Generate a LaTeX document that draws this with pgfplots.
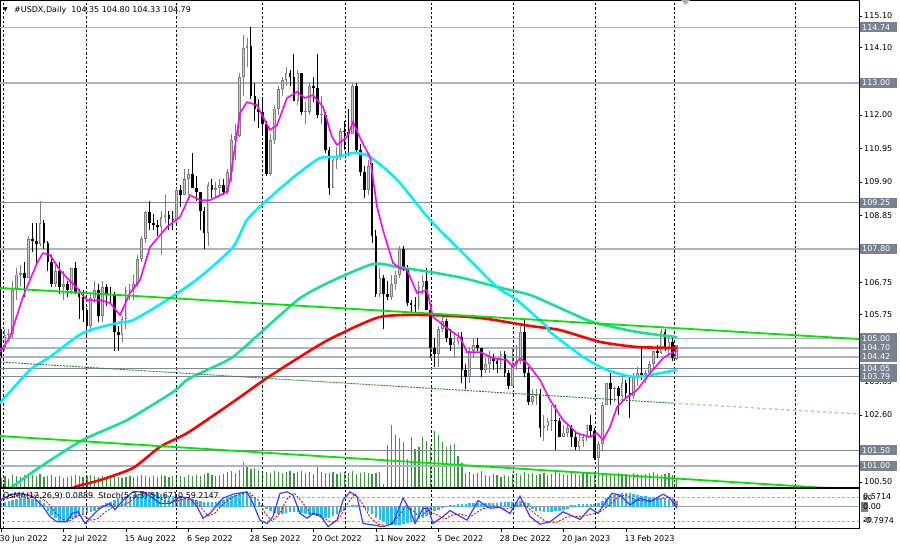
\documentclass[border=0pt]{standalone}
\usepackage{fontspec}
\setmainfont{DejaVu Sans}
\usepackage{pgfplots}
\usepackage{pgfplotstable}
\pgfplotsset{compat=1.18}
\definecolor{lvlA}{RGB}{172,180,190}
\definecolor{lvlB}{RGB}{125,135,150}
\definecolor{boxc}{RGB}{120,130,144}
\definecolor{magc}{RGB}{255,0,255}
\definecolor{cyanc}{RGB}{0,240,255}
\definecolor{sgreen}{RGB}{20,225,150}
\definecolor{limec}{RGB}{0,230,0}
\definecolor{volc}{RGB}{60,150,60}
\definecolor{osmac}{RGB}{40,190,240}
\definecolor{stochb}{RGB}{60,60,255}
\definecolor{bullc}{RGB}{125,125,125}
\definecolor{bullf}{RGB}{205,205,205}
\definecolor{dotg}{RGB}{40,130,40}
\definecolor{extg}{RGB}{120,240,120}

\pgfplotstableread{
i O H L C V M
0 105.10 105.30 104.40 104.70 9 0.25
1 104.70 105.30 104.60 105.10 11 0.30
2 105.10 105.30 104.90 105.15 8 0.35
3 105.15 106.80 105.00 106.50 12 0.40
4 106.50 107.20 106.20 107.00 11 0.45
5 107.00 107.30 106.60 107.05 10 0.50
6 107.05 107.40 106.30 106.90 12 0.52
7 106.90 108.20 106.90 108.10 11 0.50
8 108.10 108.60 107.70 108.05 12 0.48
9 108.05 108.60 107.30 107.95 11 0.45
10 107.95 109.30 107.90 108.60 13 0.40
11 108.60 108.70 107.80 108.00 10 0.25
12 108.00 108.05 107.10 107.40 11 -0.20
13 107.40 107.60 106.60 106.70 12 -0.45
14 106.70 107.30 106.60 107.10 10 -0.65
15 107.10 107.40 106.40 106.60 11 -0.80
16 106.60 107.10 106.20 106.70 9 -0.85
17 106.70 106.80 106.30 106.50 10 -0.80
18 106.50 107.20 106.40 107.20 11 -0.70
19 107.20 107.40 106.40 106.45 12 -0.60
20 106.45 106.55 105.60 106.30 11 -0.50
21 106.30 106.50 105.50 105.90 10 -0.40
22 105.90 105.95 105.00 105.40 11 -0.35
23 105.40 106.40 105.20 106.25 12 -0.30
24 106.25 106.80 106.10 106.50 11 -0.20
25 106.50 106.70 105.50 105.70 10 -0.10
26 105.70 106.80 105.50 106.60 11 0.10
27 106.60 106.70 106.00 106.40 10 0.20
28 106.40 106.60 106.10 106.35 9 0.30
29 106.35 106.45 104.60 105.20 11 0.40
30 105.20 105.40 104.60 105.10 10 0.50
31 105.10 105.70 104.90 105.60 9 0.55
32 105.60 106.60 105.30 106.50 10 0.60
33 106.50 106.70 106.20 106.55 11 0.65
34 106.55 107.00 106.20 106.70 10 0.70
35 106.70 107.60 106.60 107.50 11 0.75
36 107.50 108.20 107.40 108.10 12 0.80
37 108.10 109.00 108.00 108.95 11 0.85
38 108.95 109.30 108.40 108.60 10 0.85
39 108.60 108.90 108.40 108.55 11 0.80
40 108.55 108.70 108.20 108.50 10 0.80
41 108.50 109.00 107.60 108.80 12 0.75
42 108.80 109.50 108.60 108.85 11 0.70
43 108.85 109.00 108.40 108.75 10 0.65
44 108.75 109.00 108.40 108.70 11 0.60
45 108.70 109.70 108.60 109.65 12 0.55
46 109.65 109.80 109.10 109.50 11 0.50
47 109.50 110.30 109.50 110.00 10 0.50
48 110.00 110.30 109.50 110.15 12 0.45
49 110.15 110.80 109.70 109.70 11 0.45
50 109.70 110.10 109.30 109.60 12 0.40
51 109.60 109.60 108.40 109.00 11 0.35
52 109.00 109.10 107.80 108.30 13 0.30
53 108.30 109.90 107.90 109.80 14 0.30
54 109.80 110.00 109.40 109.65 12 0.30
55 109.65 109.90 109.40 109.70 11 0.30
56 109.70 110.00 109.50 109.80 12 0.35
57 109.80 110.00 109.50 109.60 13 0.40
58 109.60 110.30 109.50 110.20 15 0.50
59 110.20 111.40 109.90 111.20 16 0.60
60 111.20 111.70 110.60 111.35 14 0.70
61 111.35 113.30 111.30 113.20 17 0.80
62 113.20 114.50 112.60 114.10 25 0.85
63 114.10 114.40 113.50 114.15 20 0.85
64 114.15 114.75 112.50 112.60 18 0.70
65 112.60 113.00 111.80 112.20 19 0.50
66 112.20 112.50 111.60 112.10 17 0.30
67 112.10 112.50 111.40 111.70 16 0.10
68 111.70 111.80 110.10 110.15 15 -0.10
69 110.15 111.40 110.10 111.20 14 -0.25
70 111.20 112.30 111.10 112.20 16 -0.35
71 112.20 112.90 112.00 112.80 15 -0.40
72 112.80 113.20 112.60 113.10 14 -0.40
73 113.10 113.50 112.90 113.30 15 -0.35
74 113.30 113.40 112.90 113.20 16 -0.30
75 113.20 113.90 112.50 112.45 14 -0.30
76 112.45 113.40 112.30 113.30 15 -0.30
77 113.30 113.30 112.00 112.10 16 -0.35
78 112.10 112.40 111.70 112.10 14 -0.40
79 112.10 113.00 112.00 112.90 15 -0.45
80 112.90 113.20 112.40 112.85 13 -0.45
81 112.85 113.90 111.90 112.00 20 -0.50
82 112.00 112.60 111.70 112.00 15 -0.55
83 112.00 112.10 110.80 110.90 14 -0.60
84 110.90 111.00 109.50 109.70 14 -0.60
85 109.70 110.70 109.70 110.60 15 -0.50
86 110.60 111.00 110.30 110.75 13 -0.40
87 110.75 111.60 110.60 111.50 14 -0.30
88 111.50 111.80 110.90 111.45 15 -0.15
89 111.45 112.20 110.70 111.40 14 0.05
90 111.40 113.00 111.40 112.90 16 0.10
91 112.90 113.00 110.80 110.90 13 0.10
92 110.90 111.10 110.10 110.20 14 0.05
93 110.20 110.40 109.40 109.65 15 -0.05
94 109.65 110.60 109.50 110.40 14 -0.20
95 110.40 110.50 108.00 108.20 13 -0.40
96 108.20 108.40 106.30 106.40 14 -0.60
97 106.40 107.20 106.30 106.90 15 -0.75
98 106.90 107.00 105.30 106.40 3 -0.85
99 106.40 106.80 106.20 106.30 42 -0.95
100 106.30 107.00 106.20 106.70 62 -1.00
101 106.70 107.10 106.50 107.00 52 -1.05
102 107.00 107.90 106.90 107.80 49 -1.00
103 107.80 107.90 107.10 107.20 45 -0.95
104 107.20 107.30 106.00 106.10 28 -0.90
105 106.10 106.20 105.80 106.05 50 -0.85
106 106.05 106.30 105.80 106.00 38 -0.80
107 106.00 106.80 105.90 106.60 40 -0.70
108 106.60 107.00 106.40 106.80 50 -0.60
109 106.80 107.20 105.90 105.90 46 -0.50
110 105.90 106.00 104.40 104.70 41 -0.40
111 104.70 105.00 104.10 104.50 56 -0.25
112 104.50 105.40 104.10 105.30 52 -0.15
113 105.30 105.70 105.20 105.55 45 -0.05
114 105.55 105.60 104.90 105.00 40 0.05
115 105.00 105.30 104.60 104.80 42 0.10
116 104.80 105.20 104.40 104.90 43 0.12
117 104.90 105.20 104.80 105.05 31 0.15
118 105.05 105.20 103.60 104.00 24 0.15
119 104.00 104.20 103.40 103.80 14 0.18
120 103.80 104.70 103.60 104.60 15 0.20
121 104.60 105.00 104.40 104.80 13 0.22
122 104.80 105.00 104.60 104.70 14 0.20
123 104.70 104.70 103.80 104.00 16 0.18
124 104.00 104.40 103.90 104.20 12 0.20
125 104.20 104.60 103.90 104.40 11 0.22
126 104.40 104.50 104.00 104.30 13 0.25
127 104.30 104.40 103.90 104.20 12 0.25
128 104.20 104.60 104.00 104.50 10 0.30
129 104.50 104.60 103.80 103.90 12 0.30
130 103.90 104.00 103.40 103.50 11 0.30
131 103.50 104.70 103.50 104.20 13 0.30
132 104.20 104.80 104.00 104.30 14 0.30
133 104.30 105.40 104.20 105.20 12 0.32
134 105.20 105.60 103.80 103.90 15 0.28
135 103.90 104.10 102.90 103.00 13 0.20
136 103.00 103.40 102.90 103.20 14 -0.10
137 103.20 103.40 102.90 103.25 12 -0.20
138 103.25 103.40 101.90 102.20 13 -0.25
139 102.20 102.60 101.80 102.25 14 -0.30
140 102.25 102.50 102.10 102.40 12 -0.30
141 102.40 102.90 102.10 102.45 13 -0.30
142 102.45 102.90 101.50 102.40 15 -0.25
143 102.40 102.50 101.90 101.90 14 -0.20
144 101.90 102.30 101.90 102.05 13 -0.15
145 102.05 102.30 101.90 102.20 12 -0.10
146 102.20 102.30 101.60 101.90 14 0.10
147 101.90 102.10 101.50 101.60 13 0.12
148 101.60 102.00 101.50 101.80 12 0.15
149 101.80 102.00 101.60 101.90 14 0.17
150 101.90 102.30 101.80 102.30 13 0.18
151 102.30 102.60 101.90 102.10 12 0.17
152 102.10 102.20 101.20 101.25 15 0.15
153 101.25 101.80 100.80 101.70 16 0.20
154 101.70 103.00 101.50 102.90 14 0.35
155 102.90 103.60 102.90 103.60 13 0.50
156 103.60 103.90 102.90 103.40 12 0.60
157 103.40 103.50 103.00 103.45 13 0.70
158 103.45 103.50 102.60 103.20 14 0.75
159 103.20 103.80 103.00 103.60 12 0.80
160 103.60 103.70 103.10 103.30 13 0.80
161 103.30 103.80 102.50 103.20 12 0.78
162 103.20 103.90 103.10 103.80 14 0.75
163 103.80 104.10 103.50 103.90 13 0.70
164 103.90 104.70 103.70 103.85 12 0.65
165 103.85 104.00 103.60 103.90 13 0.60
166 103.90 104.30 103.80 104.20 14 0.58
167 104.20 104.60 104.00 104.60 15 0.55
168 104.60 104.80 104.40 104.55 13 0.55
169 104.55 105.30 104.50 105.20 12 0.50
170 105.20 105.30 104.60 104.70 13 0.50
171 104.70 105.10 104.50 104.90 14 0.45
172 104.90 105.00 104.30 104.40 12 0.40
173 104.35 104.80 104.33 104.79 8 0.35
}\data

\pgfplotstableread{
px s
0 72
10 85
20 89
33 81
43 56
50 31
57 18
67 18
72 39
78 43
85 14
93 35
100 52
110 64
115 48
123 72
133 93
143 93
153 77
160 64
170 64
180 81
190 77
197 56
203 27
210 39
217 60
223 77
233 87
247 93
253 64
260 22
267 14
273 31
280 89
287 93
293 85
300 39
307 27
313 39
320 35
328 6
337 22
343 72
350 93
357 81
363 14
373 10
383 6
393 14
403 77
410 48
415 14
423 52
428 52
433 14
443 31
450 46
467 22
478 71
490 52
500 54
510 39
520 82
530 31
540 12
550 18
563 43
580 24
590 52
598 39
607 72
612 89
620 85
630 60
640 77
650 68
663 87
670 77
677 52
}\stochmain

\pgfplotstableread{
px s
0 70
12 80
25 87
38 84
48 65
55 42
62 25
70 20
77 33
83 36
90 22
97 25
105 42
115 58
120 58
128 65
138 85
148 92
158 80
166 68
175 68
185 76
195 72
203 48
208 32
215 40
222 60
230 76
240 88
250 90
258 72
265 40
272 20
280 40
287 75
294 90
302 68
310 40
318 33
325 25
333 15
340 30
348 65
355 88
362 65
370 30
378 12
388 8
398 30
406 58
413 45
420 30
427 45
435 38
445 25
452 35
460 38
470 30
482 50
495 58
505 50
514 55
524 62
534 40
545 20
555 15
567 30
582 32
593 38
602 45
610 62
618 80
626 85
635 73
645 70
655 72
665 78
672 78
677 59
}\stochsig

\pgfplotsset{
  panel/.style={scale only axis, anchor=south west, width=859bp, xmin=-0.256, xmax=219.66,
    axis line style={black, line width=0.8bp}, tick style={black, line width=0.8bp},
    tick align=outside, major tick length=3bp,
    every tick label/.append style={font=\fontsize{8bp}{9.6bp}\selectfont},
    extra x ticks={0.5,21.8,44.8,66.8,88.1,110.1,131.1,152.3,172.3,203.5},
    extra x tick labels={},
    extra x tick style={grid=major, major tick length=0pt,
      major grid style={black, line width=0.8bp, dash pattern=on 2.5bp off 2bp}},
  },
  hidden/.style={scale only axis, anchor=south west, width=859bp, xmin=-0.256, xmax=219.66, hide axis},
  candle/.style={draw=none, mark=none, forget plot, error bars/.cd, y dir=plus, y explicit, error mark=none},
}
\tikzset{
  lbox/.style={fill=boxc, text=white, anchor=west, inner xsep=2bp, inner ysep=0pt,
    text width=33bp, align=left, minimum height=10bp, font=\fontsize{8bp}{9.6bp}\selectfont},
}

\begin{document}
\begin{tikzpicture}
\useasboundingbox (0bp,0bp) rectangle (900bp,550bp);
\fill[white] (0bp,0bp) rectangle (900bp,550bp);

% ---- volumes (drawn first, behind the price panel)
\begin{axis}[hidden, at={(0bp,63bp)}, height=487bp, ymin=0, ymax=487]
\addplot[ycomb, volc, line width=1.2bp, mark=none] table[x=i, y=V] {\data};
\end{axis}

% ---- price panel
\begin{axis}[panel, at={(0bp,63bp)}, height=487bp, ymin=100.344, ymax=115.60,
  xtick=\empty,
  ytick={100.50,102.60,103.65,105.75,106.75,108.85,109.90,110.95,112.00,114.10,115.10},
  yticklabels={100.50,102.60,103.65,105.75,106.75,108.85,109.90,110.95,112.00,114.10,115.10},
  ytick pos=right, yticklabel pos=right,
  yticklabel style={anchor=west, inner sep=0pt, xshift=2bp}]
% horizontal levels
\addplot[lvlA, line width=1.8bp, forget plot] coordinates {(-1,114.74) (221,114.74)};
\addplot[lvlA, line width=1.8bp, forget plot] coordinates {(-1,113.00) (221,113.00)};
\addplot[lvlB, line width=1bp, forget plot] coordinates {(-1,109.25) (221,109.25)};
\addplot[lvlA, line width=1.8bp, forget plot] coordinates {(-1,107.80) (221,107.80)};
\addplot[lvlA, line width=1bp, forget plot] coordinates {(-1,105.00) (221,105.00)};
\addplot[lvlA, line width=1.3bp, forget plot] coordinates {(-1,104.70) (221,104.70)};
\addplot[lvlA, line width=1.8bp, forget plot] coordinates {(-1,104.42) (221,104.42)};
\addplot[lvlB, line width=1bp, forget plot] coordinates {(-1,104.05) (221,104.05)};
\addplot[lvlB, line width=1bp, forget plot] coordinates {(-1,103.79) (221,103.79)};
\addplot[lvlB, line width=1bp, forget plot] coordinates {(-1,101.50) (221,101.50)};
\addplot[lvlA, line width=1.8bp, forget plot] coordinates {(-1,101.00) (221,101.00)};
% candles: wicks
\addplot[candle, error bar style={line width=1bp, draw=bullc}]
  table[x=i, y expr={\thisrow{C}<\thisrow{O} ? nan : \thisrow{L}}, y error plus expr={\thisrow{H}-\thisrow{L}}] {\data};
\addplot[candle, error bar style={line width=1bp, draw=black}]
  table[x=i, y expr={\thisrow{C}<\thisrow{O} ? \thisrow{L} : nan}, y error plus expr={\thisrow{H}-\thisrow{L}}] {\data};
% candles: bodies
\addplot[candle, error bar style={line width=2.7bp, draw=bullc}]
  table[x=i, y expr={\thisrow{C}<\thisrow{O} ? nan : \thisrow{O}}, y error plus expr={max(\thisrow{C}-\thisrow{O},0.03)}] {\data};
\addplot[candle, error bar style={line width=0.9bp, draw=bullf}]
  table[x=i, y expr={\thisrow{C}<\thisrow{O} ? nan : \thisrow{O}+0.03}, y error plus expr={max(\thisrow{C}-\thisrow{O}-0.06,0)}] {\data};
\addplot[candle, error bar style={line width=2.7bp, draw=black}]
  table[x=i, y expr={\thisrow{C}<\thisrow{O} ? \thisrow{C} : nan}, y error plus expr={max(\thisrow{O}-\thisrow{C},0.03)}] {\data};
% moving averages
\addplot[red, line width=2.6bp, smooth, tension=0.4] coordinates {
(17.66,100.25) (19.46,100.37) (25.35,100.56) (33.79,100.94) (40.71,101.60) (47.62,102.03)
(55.30,102.66) (61.19,103.16) (68.10,103.76) (76.55,104.42) (84.23,104.98) (97.03,105.67)
(109.83,105.73) (122.63,105.64) (135.43,105.39) (143.11,105.26) (153.35,104.89) (162.83,104.73) (173.07,104.70)};
\addplot[sgreen, line width=2.6bp, smooth, tension=0.4] coordinates {
(-0.26,100.08) (3.07,100.37) (9.98,100.97) (20.99,101.82) (32.26,102.44) (44.04,103.32) (47.62,103.70)
(52.74,104.01) (59.40,104.42) (68.10,105.36) (76.55,106.26) (84.23,106.77) (95.24,107.33)
(101.38,107.24) (109.83,107.08) (118.28,106.89) (126.98,106.61) (135.43,106.36) (143.11,105.95)
(151.56,105.51) (162.83,105.20) (173.07,105.04)};
\addplot[cyanc, line width=2.6bp, smooth, tension=0.4] coordinates {
(-0.26,102.97) (7.42,104.01) (12.54,104.42) (20.99,105.17) (29.70,105.48) (33.79,105.57)
(42.50,106.20) (50.95,106.92) (59.40,107.86) (62.98,108.71) (68.10,109.33) (73.99,109.96)
(76.55,110.21) (81.67,110.65) (86.02,110.68) (90.12,110.81) (93.70,110.74) (97.80,110.37)
(102.15,109.87) (109.83,108.71) (118.28,107.67) (126.98,106.61) (132.10,106.20) (139.78,105.36)
(140.55,105.20) (149.00,104.42) (155.14,104.01) (161.80,103.79) (166.16,103.85) (173.07,104.01)};
\addplot[magc, line width=1.6bp] coordinates {
(-0.26,104.57) (2.30,105.04) (5.63,106.30) (9.22,107.36) (10.75,107.67) (12.54,107.61)
(15.10,107.14) (16.90,106.89) (19.46,106.58) (22.02,106.20) (25.35,106.20) (27.91,106.11)
(30.47,105.73) (33.03,106.42) (35.59,106.83) (38.15,107.86) (42.50,108.49) (45.83,108.80)
(48.39,109.49) (50.95,109.33) (53.51,109.33) (57.86,109.59) (58.63,109.96) (61.19,112.06)
(62.98,112.40) (65.54,112.31) (67.08,111.93) (68.87,111.53) (70.66,111.68) (73.22,112.53)
(75.78,112.72) (77.83,112.53) (79.88,112.62) (82.44,112.25) (84.74,111.31) (86.02,111.06)
(88.58,111.31) (90.12,111.78) (91.91,111.28) (94.47,110.68) (96.26,109.12) (97.80,108.39)
(100.36,107.36) (102.15,107.20) (103.94,107.14) (106.50,106.42) (109.06,106.51) (110.60,105.67)
(114.18,105.32) (117.51,105.04) (119.30,104.57) (122.63,104.57) (125.96,104.38) (129.54,104.32)
(131.08,104.10) (132.87,104.38) (134.66,104.23) (137.99,103.70) (140.55,103.07) (143.88,102.44)
(147.46,102.03) (150.79,101.91) (152.58,102.03) (154.12,101.82) (155.91,102.22) (157.71,102.85)
(160.27,103.16) (162.83,103.38) (166.16,103.91) (169.48,104.38) (172.05,104.57) (173.07,104.62)};
% trend lines
\addplot[limec, line width=1.8bp] coordinates {(-0.26,106.58) (219.66,104.98)};
\addplot[limec, line width=1.8bp] coordinates {(-0.26,101.94) (219.66,100.25)};
\addplot[dotg, line width=0.9bp, dash pattern=on 2bp off 1bp] coordinates {(-0.26,104.26) (172.05,102.97)};
\addplot[extg, line width=1.3bp, dash pattern=on 3bp off 3bp] coordinates {(172.05,102.97) (219.66,102.63)};
\end{axis}

% ---- level price boxes on the right
\begin{axis}[hidden, at={(0bp,63bp)}, height=487bp, ymin=100.344, ymax=115.60, clip=false]
\node[lbox] at (axis cs:219.92,114.74) {114.74};
\node[lbox] at (axis cs:219.92,113.00) {113.00};
\node[lbox] at (axis cs:219.92,109.25) {109.25};
\node[lbox] at (axis cs:219.92,107.80) {107.80};
\node[lbox] at (axis cs:219.92,105.00) {105.00};
\node[lbox] at (axis cs:219.92,104.70) {104.70};
\node[lbox] at (axis cs:219.92,104.42) {104.42};
\node[lbox] at (axis cs:219.92,104.05) {104.05};
\node[lbox] at (axis cs:219.92,103.79) {103.79};
\node[lbox] at (axis cs:219.92,101.50) {101.50};
\node[lbox] at (axis cs:219.92,101.00) {101.00};
\end{axis}

% ---- OsMA histogram
\begin{axis}[hidden, at={(0bp,21.5bp)}, height=40bp, ymin=-1.226, ymax=1.055]
\addplot[color={rgb,255:red,150;green,160;blue,170}, line width=1bp, forget plot] coordinates {(-1,0) (221,0)};
\addplot[ycomb, osmac, line width=2.6bp, mark=none] table[x=i, y=M] {\data};
\end{axis}

% ---- Stochastic panel
\begin{axis}[panel, at={(0bp,21.5bp)}, height=40bp, ymin=1.25, ymax=101.25,
  ytick=\empty,
  xtick={0,16,32,48,64,80,96,112,128,144,160},
  xticklabels={30 Jun 2022,22 Jul 2022,15 Aug 2022,6 Sep 2022,28 Sep 2022,20 Oct 2022,11 Nov 2022,5 Dec 2022,28 Dec 2022,20 Jan 2023,13 Feb 2023},
  xtick pos=bottom,
  xticklabel style={anchor=north west, inner sep=0pt, xshift=-1.5bp, yshift=-4bp}]
\addplot[color={rgb,255:red,175;green,175;blue,175}, line width=0.8bp, dash pattern=on 3bp off 2bp, forget plot] coordinates {(-1,80) (221,80)};
\addplot[color={rgb,255:red,175;green,175;blue,175}, line width=0.8bp, dash pattern=on 3bp off 2bp, forget plot] coordinates {(-1,20) (221,20)};
\addplot[red, line width=0.9bp, dash pattern=on 2bp off 1.5bp] table[x expr={\thisrow{px}/3.906-0.256}, y=s] {\stochsig};
\addplot[stochb, line width=1.2bp] table[x expr={\thisrow{px}/3.906-0.256}, y=s] {\stochmain};
\end{axis}

% ---- texts
\node[anchor=west, inner sep=0pt] at (3bp,540bp) {\fontsize{6bp}{7bp}\selectfont ▼};
\node[anchor=west, inner sep=0pt] at (14bp,540bp) {\fontsize{8bp}{9.6bp}\selectfont \#USDX,Daily\ \ 104.35 104.80 104.33 104.79};
\fill[gray!60] (681bp,550bp) -- (690bp,550bp) -- (685.5bp,545bp) -- cycle;
\node[anchor=west, inner sep=0pt] at (3bp,54bp) {\fontsize{8bp}{9.6bp}\selectfont OsMA(12,26,9) 0.0889\ \ Stoch(5,3,3) 51.6710 59.2147};
\node[anchor=west, inner sep=0pt] at (863bp,53bp) {\fontsize{8bp}{9.6bp}\selectfont 0.5714};
\node[anchor=west, inner sep=0pt] at (863bp,52bp) {\fontsize{7bp}{8bp}\selectfont 80};
\fill[boxc] (861bp,38bp) rectangle (868bp,48bp);
\node[anchor=west, inner sep=0pt] at (863bp,43bp) {\fontsize{8bp}{9.6bp}\selectfont 0.00};
\node[anchor=west, inner sep=0pt] at (863bp,29bp) {\fontsize{8bp}{9.6bp}\selectfont -0.7974};
\node[anchor=west, inner sep=0pt] at (863bp,30bp) {\fontsize{7bp}{8bp}\selectfont 20};
\end{tikzpicture}
\end{document}
